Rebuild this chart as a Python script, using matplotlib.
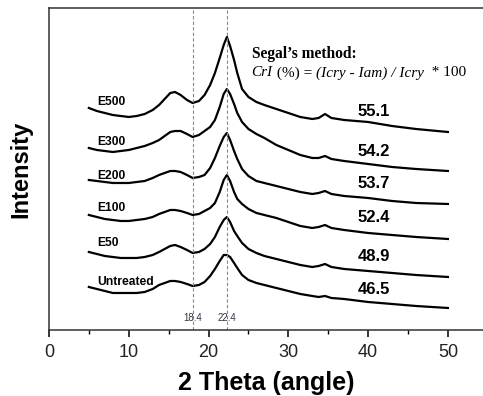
import matplotlib.pyplot as plt
import numpy as np
from matplotlib.offsetbox import TextArea, HPacker, VPacker, AnnotationBbox

# 2-theta grid (degrees) and stacked XRD patterns (arbitrary units)
two_theta = [5, 6, 7, 8, 9, 10, 11, 12, 13, 13.8, 14.5, 15.2, 15.8, 16.5, 17.3, 18,
             18.8, 19.5, 20.2, 20.8, 21.4, 21.9, 22.3, 22.7, 23.2, 23.6, 24.2, 25,
             26, 27, 28.5, 30, 31.5, 33, 33.8, 34.6, 35.4, 37, 40, 43, 46, 50]

e500 = [108, 111, 113, 115, 116, 117, 116, 114, 110, 105, 99, 93, 92, 95, 100, 103,
        101, 95, 85, 73, 58, 45, 37, 46, 60, 73, 89, 97,
        102, 105, 109, 113, 117, 119, 118, 114, 118, 120, 122, 126, 129, 132]
e300 = [148, 150, 151, 152, 151, 150, 148, 146, 143, 140, 136, 132, 131, 131, 134, 137,
        135, 131, 127, 120, 107, 94, 89, 94, 104, 113, 122, 129,
        134, 138, 145, 150, 155, 158, 158, 156, 159, 161, 164, 167, 169, 171]
e200 = [180, 181, 182, 183, 183, 183, 182, 181, 178, 175, 173, 171, 171, 172, 175, 178,
        177, 175, 168, 158, 146, 137, 133, 140, 151, 159, 169, 176,
        181, 183, 186, 189, 192, 194, 193, 191, 194, 196, 198, 201, 203, 204]
e100 = [215, 217, 219, 220, 221, 221, 220, 219, 217, 214, 212, 210, 210, 211, 213, 215,
        214, 211, 208, 203, 192, 180, 175, 181, 192, 199, 204, 209,
        213, 215, 218, 222, 226, 228, 227, 225, 228, 230, 233, 235, 237, 239]
e50 = [252, 254, 256, 257, 258, 258, 258, 257, 255, 252, 249, 246, 245, 247, 250, 253,
       252, 249, 244, 237, 227, 220, 217, 222, 231, 236, 243, 249,
       253, 256, 259, 262, 265, 267, 266, 264, 267, 269, 271, 273, 275, 277]
untreated = [287, 289, 291, 293, 293, 293, 293, 292, 289, 285, 283, 281, 281, 282, 284, 286,
             285, 282, 276, 269, 261, 255, 255, 257, 263, 268, 275, 280,
             283, 285, 288, 291, 294, 296, 297, 296, 298, 299, 302, 304, 306, 308]

samples = ["E500", "E300", "E200", "E100", "E50", "Untreated"]
patterns = [e500, e300, e200, e100, e50, untreated]
cri = ["55.1", "54.2", "53.7", "52.4", "48.9", "46.5"]
label_y = [228, 188, 154, 122, 87, 48]
cri_y = [218, 178, 146, 112, 73, 40]
ref_peaks = [18.0, 22.3]
ref_labels = ["18.4", "22.4"]

TOP = 330  # patterns were read as pixel rows; flip them into intensity

fig = plt.figure(figsize=(4.83, 3.96), dpi=100)
ax = fig.add_axes([0.1014, 0.1667, 0.8986, 0.8131])

for name, pat, ly, num, ny in zip(samples, patterns, label_y, cri, cri_y):
    ax.plot(two_theta, TOP - np.array(pat), color='black', lw=1.6)
    ax.text(6.1, ly, name, fontsize=8.7, fontweight='bold', family='Liberation Sans',
            va='center', ha='left')
    ax.text(40.7, ny, num, fontsize=12, fontweight='bold', family='Liberation Sans',
            va='center', ha='center')

for xp, lab in zip(ref_peaks, ref_labels):
    ax.axvline(xp, color='#888888', lw=0.8, ls=(0, (3, 2)))
    ax.text(xp, 12, lab, fontsize=7, color='#333344', ha='center', va='center',
            family='Liberation Sans')

# Segal's formula, mixed italic / upright
serif = dict(fontsize=11, family='Liberation Serif', color='black')
title = TextArea("Segal\u2019s method:", textprops=dict(serif, fontweight='bold', fontsize=11.2))
parts = [("CrI", 'italic'), (" (%) = ", 'normal'), ("(Icry - Iam) / Icry", 'italic'),
         ("  * 100", 'normal')]
line = HPacker(children=[TextArea(t, textprops=dict(serif, style=s)) for t, s in parts],
               sep=0, pad=0, align='baseline')
box = VPacker(children=[title, line], sep=3, pad=0, align='left')
ax.add_artist(AnnotationBbox(box, (25.4, 284), xycoords='data', box_alignment=(0, 1),
                             frameon=False, pad=0))

ax.set_xlim(0, 54.4)
ax.set_ylim(0, 322)
ax.set_xticks([0, 10, 20, 30, 40, 50])
ax.set_xticks([5, 15, 25, 35, 45], minor=True)
ax.set_yticks([])
ax.tick_params(axis='x', which='major', direction='out', length=5, width=1.1,
               labelsize=13, labelcolor='#222222', pad=5)
ax.tick_params(axis='x', which='minor', direction='out', length=3, width=1.0)
for lab in ax.get_xticklabels():
    lab.set_family('Liberation Sans')
ax.spines['right'].set_visible(False)
for s in ['left', 'bottom', 'top']:
    ax.spines[s].set_linewidth(1.1)
    ax.spines[s].set_color('#333333')

ax.set_xlabel('2 Theta (angle)', fontsize=18, fontweight='bold', family='Liberation Sans',
              labelpad=7)
ax.set_ylabel('Intensity', fontsize=17, fontweight='bold', family='Liberation Sans',
              labelpad=12)

fig.savefig('out.png', dpi=100)
